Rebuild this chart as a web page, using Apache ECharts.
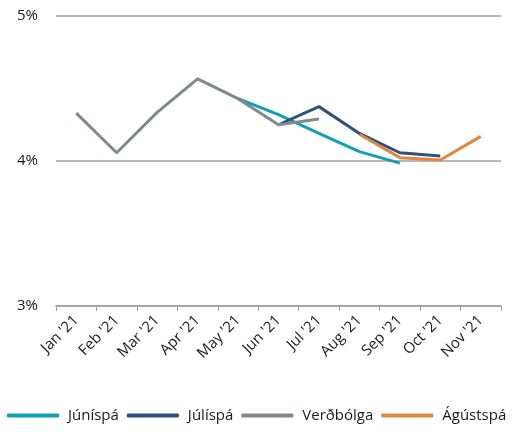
<!DOCTYPE html>
<html>
<head>
<meta charset="utf-8">
<script src="https://cdn.jsdelivr.net/npm/echarts@6/dist/echarts.min.js"></script>
<style>
  html, body { margin: 0; padding: 0; background: #fff; }
  #chart { width: 528px; height: 432px; }
</style>
</head>
<body>
<div id="chart"></div>
<script>
const months = ["Jan '21", "Feb '21", "Mar '21", "Apr '21", "May '21", "Jun '21", "Jul '21", "Aug '21", "Sep '21", "Oct '21", "Nov '21"]
const juniSpa = [null, null, null, null, 4.43, 4.32, 4.19, 4.065, 3.985, null, null]
const juliSpa = [null, null, null, null, null, 4.25, 4.375, 4.19, 4.057, 4.034, null]
const verdbolga = [4.33, 4.057, 4.335, 4.566, 4.43, 4.25, 4.29, null, null, null, null]
const agustSpa = [null, null, null, null, null, null, null, 4.185, 4.023, 4.007, 4.17]

const font = '"Open Sans", sans-serif'
const chart = echarts.init(document.getElementById('chart'))

function line(name, data, color) {
  return {
    name,
    type: 'line',
    data,
    symbol: 'none',
    connectNulls: false,
    lineStyle: { width: 3, color },
    itemStyle: { color }
  }
}

chart.setOption({
  animation: false,
  textStyle: { fontFamily: font },
  grid: { left: 56, right: 27, top: 16, bottom: 126 },
  legend: {
    left: 2,
    bottom: 4,
    itemWidth: 52,
    itemHeight: 4,
    itemGap: 8,
    icon: 'roundRect',
    textStyle: { fontFamily: font, fontSize: 15, color: '#1a1a1a', padding: [0, 0, 0, 4] },
    data: ['Júníspá', 'Júlíspá', 'Verðbólga', 'Ágústspá']
  },
  xAxis: {
    type: 'category',
    data: months,
    boundaryGap: true,
    axisLine: { lineStyle: { color: '#a0a0a0', width: 1.5 } },
    axisTick: { show: true, length: 5, lineStyle: { color: '#a0a0a0' } },
    axisLabel: { rotate: 45, fontSize: 15, color: '#1a1a1a', margin: 12, fontFamily: font, interval: 0 }
  },
  yAxis: {
    type: 'value',
    min: 3,
    max: 5,
    interval: 1,
    axisLine: { show: false },
    axisTick: { show: false },
    axisLabel: { formatter: v => v + '%', fontSize: 15, color: '#1a1a1a', margin: 18, fontFamily: font },
    splitLine: { lineStyle: { color: '#a0a0a0', width: 1.5 } }
  },
  series: [
    line('Júníspá', juniSpa, '#119fb3'),
    line('Júlíspá', juliSpa, '#2e5278'),
    line('Verðbólga', verdbolga, '#808a8c'),
    line('Ágústspá', agustSpa, '#e3853f')
  ]
})
</script>
</body>
</html>
